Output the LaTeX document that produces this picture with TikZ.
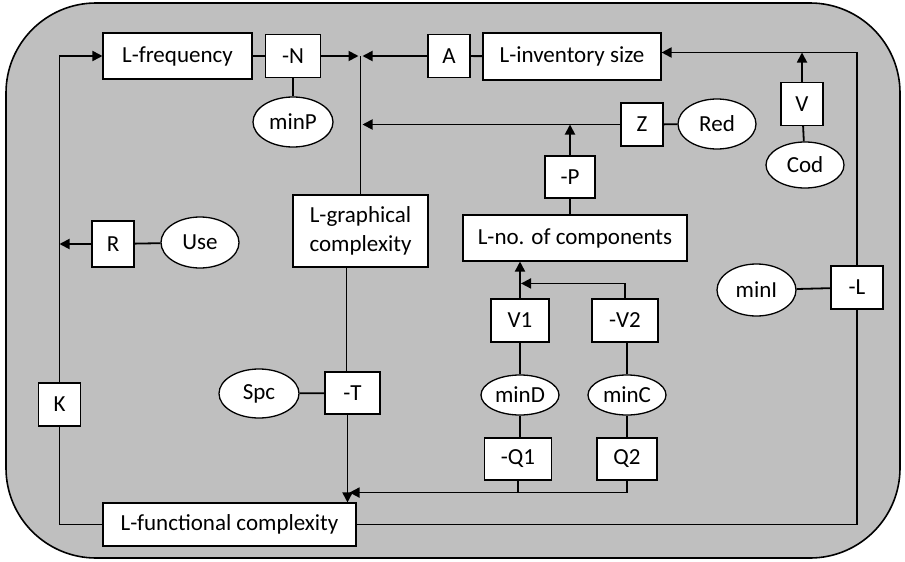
\documentclass[tikz,border=0pt]{standalone}
\usepackage{fontspec}
\setmainfont{Carlito}
\usetikzlibrary{arrows.meta,shapes.geometric}
\definecolor{panel}{RGB}{191,191,191}
\tikzset{
  box/.style={draw, fill=white, line width=1.1pt, minimum width=42pt, minimum height=43pt, inner sep=1pt},
  oval/.style={draw, fill=white, ellipse, line width=1.3pt, minimum width=78pt, minimum height=48pt, inner sep=0pt},
  link/.style={line width=1.8pt},
  arr/.style={link, -{Triangle[length=10pt,width=10pt]}}
}
\begin{document}
\begin{tikzpicture}[x=1pt,y=-1pt,font=\fontsize{23}{29}\selectfont]
\useasboundingbox (0,0) rectangle (905,562);
\draw[fill=panel, line width=1.6pt, rounded corners=90pt] (6,3) rectangle (900,558);
\node[box, minimum width=149pt, minimum height=46pt] (freq) at (177.5,56) {L-frequency};
\node[box, minimum width=55pt] (negN) at (293,56) {-N};
\node[oval, minimum width=80pt, minimum height=50pt] (minP) at (293,122) {minP};
\node[box] (A) at (449,56) {A};
\node[box, minimum width=178pt, minimum height=47pt] (inv) at (572,56.5) {L-inventory size};
\node[box] (V) at (802,104) {V};
\node[oval, minimum height=46pt] (Cod) at (805,165) {Cod};
\node[box] (Z) at (642,124.5) {Z};
\node[oval, minimum height=50pt] (Red) at (717,124) {Red};
\node[box, minimum width=50pt, minimum height=42pt] (negP) at (570,177) {-P};
\node[box, minimum width=224pt, minimum height=46pt] (comp) at (575,238) {L-no. of components};
\node[box, minimum width=58pt] (V1) at (520,320.5) {V1};
\node[box, minimum width=66pt] (negV2) at (625,320.5) {-V2};
\node[oval, minimum height=40pt] (minD) at (520,395) {minD};
\node[oval, minimum height=40pt] (minC) at (627,395) {minC};
\node[box, minimum width=67pt, minimum height=42pt] (negQ1) at (518,459) {-Q1};
\node[box, minimum width=60pt, minimum height=42pt] (Q2) at (627,459) {Q2};
\node[box, minimum width=253pt] (func) at (229.5,524.5) {L-functional complexity};
\node[box] (K) at (59.5,404.5) {K};
\node[box, minimum height=46pt] (R) at (113,244) {R};
\node[oval, minimum height=51pt] (Use) at (200,242.5) {Use};
\node[box, minimum width=135pt, minimum height=72pt, align=center] (graph) at (360.5,231) {L-graphical\\complexity};
\node[box, minimum width=55pt, minimum height=42pt] (negT) at (352.5,393) {-T};
\node[oval, minimum width=80pt, minimum height=49pt] (Spc) at (259,393.5) {Spc};
\node[oval, minimum width=79pt, minimum height=52pt] (minI) at (756.5,290) {minI};
\node[box, minimum width=52pt] (negL) at (857,287.5) {-L};
\coordinate (jtop) at (graph.north |- A.west);
\coordinate (jmid) at (graph.north |- Z.west);
\coordinate (invin) at ([yshift=4pt]inv.east);
\coordinate (jcomp) at ([yshift=15pt]V1.north);
\coordinate (tcol) at ([xshift=-5pt]negT.south);
\coordinate (jbot) at ([yshift=-12pt]Q2.south);
\coordinate (jf) at (jbot -| tcol);
\draw[link] (freq) -- (negN);
\draw[link] (negN) -- (minP);
\draw[arr] (negN) -- ([xshift=-2pt]jtop);
\draw[arr] (A) -- ([xshift=2pt]jtop);
\draw[link] (A) -- (inv);
\draw[link] (graph.north) -- (jtop);
\draw[arr] (Z) -- ([xshift=2pt]jmid);
\draw[link] (Red) -- (Z);
\draw[arr] (negP) -- (negP.north |- Z.west);
\draw[link] (negP.south) -- (negP.south |- comp.north);
\draw[arr] (negL.north) |- (invin);
\draw[arr] (V) -- (V.north |- invin);
\draw[link] (Cod) -- (V);
\draw[arr] (V1) -- (V1.north |- comp.south);
\draw[arr] (negV2.north) |- ([xshift=1pt]jcomp);
\draw[link] (minD) -- (V1);
\draw[link] (minD.south) -- (minD.south |- negQ1.north);
\draw[link] (minC.north) -- (minC.north |- negV2.south);
\draw[link] (minC) -- (Q2);
\draw[link] (negQ1.south) -- (negQ1.south |- jbot);
\draw[arr] (Q2.south) -- (jbot) -- ([xshift=2pt]jf);
\draw[arr] (tcol) -- (tcol |- func.north);
\draw[link] ([xshift=-6pt]negT.north) -- ([xshift=-6pt]negT.north |- graph.south);
\draw[link] (Spc) -- (negT);
\draw[link] (minI) -- (negL);
\draw[link] (negL.south) |- (func.east);
\draw[link] (K.south) |- (func.west);
\draw[arr] (K.north) |- (freq.west);
\draw[arr] (R) -- (R.west -| K.north);
\draw[link] (Use) -- (R);
\end{tikzpicture}
\end{document}
